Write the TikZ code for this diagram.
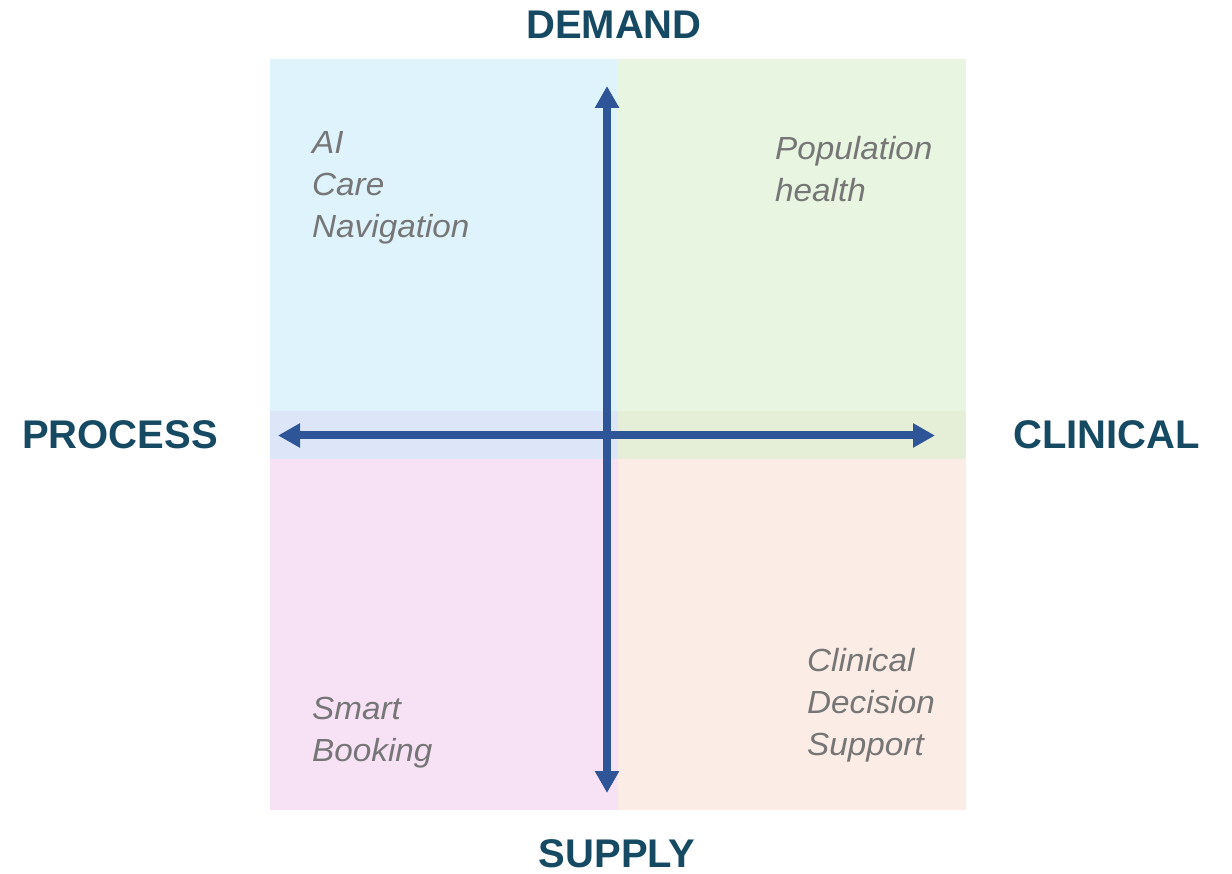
\documentclass[tikz,border=0pt]{standalone}
\usepackage{fontspec}
\setmainfont{Liberation Sans}
\newfontfamily\itemfont[FakeStretch=1.04]{Liberation Sans}
\usetikzlibrary{arrows.meta}
\definecolor{axislbl}{HTML}{164A63}
\definecolor{itemgray}{HTML}{767676}
\definecolor{arrowblue}{HTML}{2E5597}
\definecolor{qtl}{HTML}{DEF3FC}
\definecolor{qtr}{HTML}{E7F5E1}
\definecolor{qbl}{HTML}{F7E1F5}
\definecolor{qbr}{HTML}{FCECE6}
\definecolor{bandl}{HTML}{DCE6F8}
\definecolor{bandr}{HTML}{E5EFD8}
\begin{document}
\begin{tikzpicture}[x=1pt,y=-1pt,
  axislabel/.style={inner sep=0pt,text depth=0pt,text=axislbl,font=\fontsize{40}{48}\selectfont\bfseries},
  itemtext/.style={inner sep=0pt,text=itemgray,align=left,font=\itemfont\itshape\fontsize{32}{42}\selectfont},
  axisarrow/.style={draw=arrowblue,line width=8pt,{Triangle[length=22pt,width=23pt]}-{Triangle[length=22pt,width=23pt]}}]
\useasboundingbox (0,0) rectangle (1232,874);
% quadrants
\fill[qtl] (270,59) rectangle (618,411);
\fill[qtr] (618,59) rectangle (966,411);
\fill[bandl] (270,411) rectangle (618,459);
\fill[bandr] (618,411) rectangle (966,459);
\fill[qbl] (270,459) rectangle (618,810);
\fill[qbr] (618,459) rectangle (966,810);
% axes
\coordinate (top) at (607,86);
\coordinate (bottom) at (607,793);
\coordinate (left) at (278,435.5);
\coordinate (right) at (935,435.5);
\draw[axisarrow] (bottom) -- (top);
\draw[axisarrow] (left) -- (right);
% axis labels
\node[axislabel,anchor=base] (demand) at (614,39) {DEMAND};
\node[axislabel,anchor=base] (supply) at (617,867) {SUPPLY};
\node[axislabel,anchor=base west] (process) at (22,449) {PROCESS};
\node[axislabel,anchor=base west] (clinical) at (1013,449) {CLINICAL};
% items
\node[itemtext,anchor=base west] (ai) at (312,238) {AI\\Care\\Navigation};
\node[itemtext,anchor=base west] (pop) at (775,202) {Population\\health};
\node[itemtext,anchor=base west] (smart) at (312,761) {Smart\\Booking};
\node[itemtext,anchor=base west] (cds) at (807,755) {Clinical\\Decision\\Support};
\end{tikzpicture}
\end{document}
